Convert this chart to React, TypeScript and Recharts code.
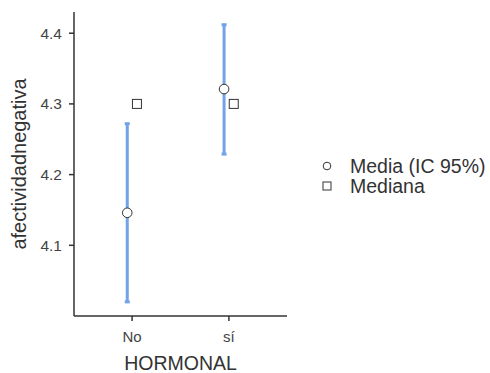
import React from "react";
import {
  ComposedChart,
  Scatter,
  ErrorBar,
  XAxis,
  YAxis,
} from "recharts";

// HORMONAL groups
const categories = ["No", "sí"];
const means = [4.146, 4.321];
const ciLow = [4.02, 4.229];
const ciHigh = [4.272, 4.412];
const medians = [4.3, 4.3];
const yTicks = [4.1, 4.2, 4.3, 4.4];

const DODGE = 0.05;
const BLUE = "#72a2e8";
const INK = "#333333";

const meanData = categories.map((c, i) => ({
  x: i + 1 - DODGE,
  y: means[i],
  ci: [means[i] - ciLow[i], ciHigh[i] - means[i]],
}));
const medianData = categories.map((c, i) => ({ x: i + 1 + DODGE, y: medians[i] }));

const CircleDot = (props: any) => (
  <circle cx={props.cx} cy={props.cy} r={4.8} fill="#fff" stroke={INK} strokeWidth={1} />
);
const SquareDot = (props: any) => (
  <rect x={props.cx - 4.5} y={props.cy - 4.5} width={9} height={9} fill="#fff" stroke={INK} strokeWidth={1} />
);

// legend sits to the right of the plot, outside the chart layout
const LegendBox = () => (
  <div
    style={{
      position: "absolute",
      left: 318,
      top: 156,
      fontSize: 19.5,
      color: INK,
      lineHeight: "20px",
    }}
  >
    <div style={{ display: "flex", alignItems: "center" }}>
      <svg width={32} height={20}>
        <circle cx={9} cy={10} r={3.8} fill="#fff" stroke={INK} strokeWidth={1} />
      </svg>
      <span>Media (IC 95%)</span>
    </div>
    <div style={{ display: "flex", alignItems: "center" }}>
      <svg width={32} height={20}>
        <rect x={5} y={6} width={8} height={8} fill="#fff" stroke={INK} strokeWidth={1} />
      </svg>
      <span>Mediana</span>
    </div>
  </div>
);

export default function App() {
  return (
    <div
      style={{
        position: "absolute",
        left: 0,
        top: 0,
        width: 490,
        height: 373,
        background: "#fff",
        fontFamily: "'Liberation Sans', Arial, sans-serif",
      }}
    >
      <ComposedChart
        width={490}
        height={373}
        margin={{ top: 12, right: 203, bottom: 27, left: 14 }}
      >
        <XAxis
          type="number"
          dataKey="x"
          domain={[0.4, 2.6]}
          ticks={[1, 2]}
          tickFormatter={(v: number) => categories[v - 1]}
          allowDataOverflow
          height={30}
          stroke={INK}
          strokeWidth={1.5}
          tickSize={5}
          tickMargin={10}
          tick={{ fill: "#444", fontSize: 15 }}
          label={{ value: "HORMONAL", position: "bottom", offset: 10, fill: INK, fontSize: 19.5 }}
        />
        <YAxis
          type="number"
          dataKey="y"
          domain={[4.0, 4.43]}
          ticks={yTicks}
          allowDataOverflow
          width={60}
          stroke={INK}
          strokeWidth={1.5}
          tickSize={5}
          tickMargin={7}
          tick={{ fill: "#444", fontSize: 15.5 }}
          label={{
            value: "afectividadnegativa",
            angle: -90,
            position: "insideLeft",
            offset: 5,
            fill: INK,
            fontSize: 20,
            style: { textAnchor: "middle" },
          }}
        />
        <Scatter
          name="Media (IC 95%)"
          data={meanData}
          shape={CircleDot}
          isAnimationActive={false}
        >
          <ErrorBar dataKey="ci" direction="y" width={2.5} stroke={BLUE} strokeWidth={3} />
        </Scatter>
        <Scatter
          name="Mediana"
          data={medianData}
          shape={SquareDot}
          isAnimationActive={false}
        />
      </ComposedChart>
      <LegendBox />
    </div>
  );
}
